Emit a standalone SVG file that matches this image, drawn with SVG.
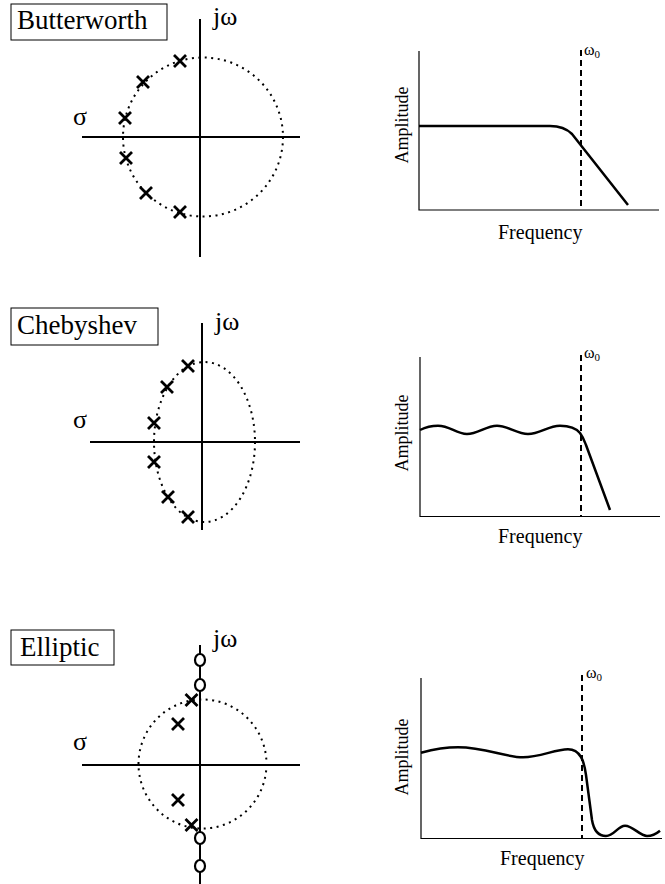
<svg xmlns="http://www.w3.org/2000/svg" width="665" height="884" viewBox="0 0 665 884">
<style>
.t{font-family:"Liberation Serif","Times New Roman",serif;fill:#000}
.title{font-size:27px}
.greek{font-size:26px}
.lab{font-size:20px}
.amp{font-size:18px}
.w0{font-size:16px}
.sub{font-size:11px}
.box{fill:#fff;stroke:#000;stroke-width:1}
.ax{stroke:#000;stroke-width:2;fill:none}
.thin{stroke:#000;stroke-width:1.2;fill:none}
.dot{stroke:#000;stroke-width:2;fill:none;stroke-dasharray:2 4.5}
.dash{stroke:#000;stroke-width:2;fill:none;stroke-dasharray:6 4}
.crv{stroke:#000;stroke-width:2.5;fill:none;stroke-linejoin:round}
.x{stroke:#000;stroke-width:2.8;fill:none}
.z{stroke:#000;stroke-width:2.2;fill:#fff}
</style>
<defs>
<path id="cross" class="x" d="M-6,-6 L6,6 M-6,6 L6,-6"/>
</defs>

<!-- Butterworth -->
<g id="butterworth-label">
<rect class="box" x="11" y="4" width="156" height="36"/>
<text class="t title" x="17" y="29">Butterworth</text>
</g>
<g id="butterworth-splane">
<ellipse class="dot" cx="203" cy="137" rx="80" ry="79.5"/>
<line class="ax" x1="200" y1="19" x2="200" y2="257"/>
<line class="ax" x1="82" y1="137" x2="300" y2="137"/>
<text class="t greek" x="213" y="25">jω</text>
<text class="t greek" x="73" y="125">σ</text>
<use href="#cross" x="180" y="61"/>
<use href="#cross" x="143" y="82"/>
<use href="#cross" x="125" y="118"/>
<use href="#cross" x="126" y="158"/>
<use href="#cross" x="146" y="193"/>
<use href="#cross" x="180" y="212"/>
</g>
<g id="butterworth-response">
<polyline class="thin" points="419,51 419,210 659,210"/>
<line class="dash" x1="581" y1="50" x2="581" y2="210"/>
<text class="t w0" x="584" y="55">ω<tspan class="sub" dy="3">0</tspan></text>
<path class="crv" d="M419,126 H550 C560,126 566,128 572,134 L628,205"/>
<text class="t amp" transform="translate(408,125) rotate(-90)" text-anchor="middle">Amplitude</text>
<text class="t lab" x="498" y="239">Frequency</text>
</g>

<!-- Chebyshev -->
<g id="chebyshev-label">
<rect class="box" x="11" y="308" width="147" height="37"/>
<text class="t title" x="17" y="334">Chebyshev</text>
</g>
<g id="chebyshev-splane">
<ellipse class="dot" cx="204.5" cy="442" rx="50.5" ry="80"/>
<line class="ax" x1="202" y1="323" x2="202" y2="530"/>
<line class="ax" x1="90" y1="442" x2="300" y2="442"/>
<text class="t greek" x="215" y="330">jω</text>
<text class="t greek" x="73" y="428">σ</text>
<use href="#cross" x="188" y="366"/>
<use href="#cross" x="167" y="387"/>
<use href="#cross" x="154" y="423"/>
<use href="#cross" x="154" y="462"/>
<use href="#cross" x="168" y="497"/>
<use href="#cross" x="188" y="517"/>
</g>
<g id="chebyshev-response">
<polyline class="thin" points="420,357 420,516.5 660,516.5"/>
<line class="dash" x1="581" y1="355" x2="581" y2="516"/>
<text class="t w0" x="584" y="358">ω<tspan class="sub" dy="3">0</tspan></text>
<path class="crv" d="M420,430 C427,426.5 432,425.7 438,425.7 C450,425.7 456,434 467,434 C478,434 486,425.7 497,425.7 C508,425.7 517,434 528,434 C540,434 548,425.7 560,425.7 C570,425.7 576,428 580,433 C583,437 584,440 586,445 L610,510"/>
<text class="t amp" transform="translate(408,433) rotate(-90)" text-anchor="middle">Amplitude</text>
<text class="t lab" x="498" y="543">Frequency</text>
</g>

<!-- Elliptic -->
<g id="elliptic-label">
<rect class="box" x="11" y="630" width="103" height="35"/>
<text class="t title" x="20" y="656">Elliptic</text>
</g>
<g id="elliptic-splane">
<ellipse class="dot" cx="202.5" cy="764" rx="64" ry="64.5"/>
<line class="ax" x1="200" y1="645" x2="200" y2="884"/>
<line class="ax" x1="82" y1="765" x2="300" y2="765"/>
<text class="t greek" x="213" y="647">jω</text>
<text class="t greek" x="73" y="750">σ</text>
<ellipse class="z" cx="200" cy="660" rx="5" ry="6"/>
<ellipse class="z" cx="200" cy="685" rx="5" ry="6"/>
<ellipse class="z" cx="200" cy="838" rx="5" ry="6"/>
<ellipse class="z" cx="200" cy="866" rx="5" ry="6"/>
<use href="#cross" x="191.5" y="700"/>
<use href="#cross" x="178" y="724"/>
<use href="#cross" x="178" y="800"/>
<use href="#cross" x="191.5" y="825"/>
</g>
<g id="elliptic-response">
<polyline class="thin" points="421,678 421,838.5 662,838.5"/>
<line class="dash" x1="582" y1="675" x2="582" y2="838"/>
<text class="t w0" x="586" y="678">ω<tspan class="sub" dy="3">0</tspan></text>
<path class="crv" d="M421,752.7 C435,749 445,747.3 458,747.3 C485,747.3 505,757.3 523,757.3 C540,757.3 555,749.3 568,749.3 C574,749.3 578,752 581,757 C584,762 585,768 586,775 L592,820 C594,832 600,836 606,836 C614,836 618,825.7 625,825.7 C633,825.7 640,836 647,836 C652,836 656,834 660,830.7"/>
<text class="t amp" transform="translate(408,757) rotate(-90)" text-anchor="middle">Amplitude</text>
<text class="t lab" x="500" y="865">Frequency</text>
</g>
</svg>
